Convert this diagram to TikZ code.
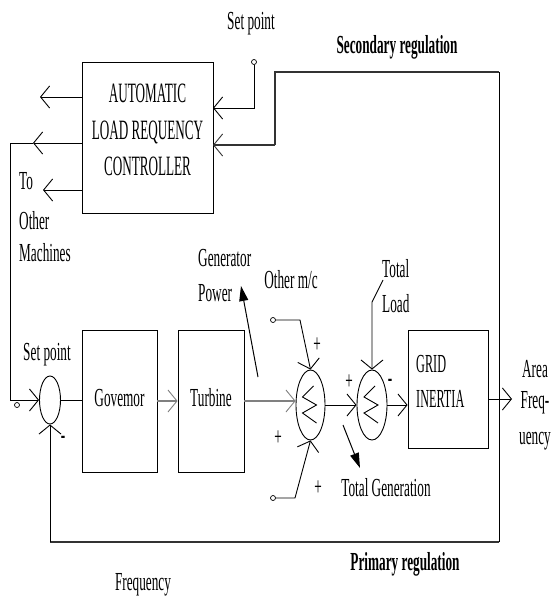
\documentclass[tikz,border=0pt]{standalone}
\usepackage{fontspec}
\setmainfont{Liberation Serif}[FakeStretch=0.51]
\newfontfamily\capsfont{Liberation Serif}[FakeStretch=0.47]

\usetikzlibrary{arrows.meta, shapes.geometric}

\begin{document}
\begin{tikzpicture}[
          x=1pt, y=-1pt,
          lbl/.style={font=\fontsize{26}{32}\selectfont, inner sep=0pt},
          hdr/.style={font=\fontsize{26}{32}\selectfont\bfseries, inner sep=0pt},
          blk/.style={draw, line width=0.9pt, inner sep=0pt, text depth=7pt, font=\fontsize{26}{32}\selectfont},
          sumnode/.style={ellipse, draw, line width=0.9pt, inner sep=0pt},
          term/.style={circle, draw, line width=0.7pt, inner sep=0pt, minimum size=5pt},
          arr/.style={-{Straight Barb[length=9pt, width=22pt, line width=0.9pt]}, line width=0.9pt},
          farr/.style={-{Triangle[length=15pt, width=9pt]}, line width=1pt},
          heavy/.style={line width=2.5pt, draw=gray},
          loopln/.style={line width=1.8pt, draw=black!80}
        ]
        \useasboundingbox (0,0) rectangle (554,596);
        % blocks
        \node[blk, minimum width=131, minimum height=151] (alfc) at (147.5,137.5) {};
        \node[align=center, inner sep=0pt, font=\capsfont\fontsize{28}{36.5}\selectfont]
              (alfctxt) at (147.5,130) {AUTOMATIC\\LOAD REQUENCY\\CONTROLLER};
        \node[blk, minimum width=75, minimum height=142] (gov) at (119.5,401) {Govemor};
        \node[blk, minimum width=66, minimum height=142] (turb) at (211,401) {Turbine};
        \node[blk, minimum width=80, minimum height=118] (grid) at (448,389) {};
        \node[anchor=west, align=left, inner sep=0pt, font=\capsfont\fontsize{26}{35}\selectfont]
              (gridtxt) at (416,381.5) {GRID\\INERTIA};
        % summing points
        \node[sumnode, minimum width=21, minimum height=48] (sum1) at (50,400) {};
        \node[sumnode, minimum width=29, minimum height=70] (sum2) at (310.5,405) {};
        \node[sumnode, minimum width=30, minimum height=70] (sum3) at (372,405) {};
        \foreach \s in {sum2,sum3}
          \draw[line width=0.9pt, shift={(\s.center)}] (3,-19) -- (-8,-8) -- (6,0) -- (-8,8) -- (6,18);
        % terminals
        \node[term] (sptop) at (254,62) {};
        \node[term] (spleft) at (17,405) {};
        \node[term] (omtop) at (273,320) {};
        \node[term] (ombot) at (273,498) {};
        % coordinates
        \coordinate (spin) at (213,108);
        \coordinate (rtop) at (499,72);
        \coordinate (sjog) at (275,72);
        \coordinate (secin) at (213,145);
        \coordinate (rbot) at (499,542);
        \coordinate (lbot) at (50,542);
        \coordinate (lcorner) at (10,143);
        \coordinate (kt) at (300,320);
        \coordinate (kb) at (295,498);
        \coordinate (tl1) at (383,280);
        \coordinate (tl2) at (372,302);
        \coordinate (areaout) at (512,399);
        \coordinate (gp0) at (258,377);
        \coordinate (gp1) at (241,286);
        \coordinate (tg0) at (343,425);
        \coordinate (tg1) at (360,468);
        % secondary loop
        \draw[arr] (sptop) -- (sptop |- spin) -- (spin);
        \draw[line width=0.9pt] (rbot) -- (rtop);
        \draw[loopln] (rtop) -- (sjog) -- (sjog |- secin);
        \draw[arr, loopln] (sjog |- secin) -- (secin);
        \foreach \y/\xe/\n in {97/40/out1, 143/33/out2, 190/43/out3} {
          \coordinate (\n) at (\xe,\y);
          \draw[arr] (alfc.west |- \n) -- (\n);
        }
        \draw[arr] (out2) -- (lcorner) -- (lcorner |- sum1.west) -- (sum1.west);
        % primary loop
        \draw[loopln] (rbot) -- (lbot);
        \draw[arr] (lbot) -- (sum1.south);
        % main path
        \draw[line width=0.9pt] (sum1.east) -- (gov.west |- sum1.east);
        \draw[arr, heavy] (gov.east) -- (turb.west);
        \draw[arr, heavy] (turb.east) -- (turb.east -| sum2.west);
        \draw[arr] (sum2.east) -- (sum3.west);
        \draw[arr] (sum3.east) -- (sum3.east -| grid.west);
        \draw[arr] (grid.east |- areaout) -- (areaout);
        % other inputs
        \draw[arr] (omtop) -- (kt) -- (sum2.north);
        \draw[arr] (ombot) -- (kb) -- (sum2.south);
        \draw[arr] (tl1) -- (tl2) -- (sum3.north);
        \draw[farr] (gp0) -- (gp1);
        \draw[farr] (tg0) -- (tg1);
        % labels
        \node[lbl] (lsptop) at (251,24) {Set point};
        \node[hdr] (lsec) at (397,47) {Secondary regulation};
        \node[lbl, anchor=west, align=left] (lmach) at (19,217) {To\\[8pt]Other\\Machines};
        \node[lbl, anchor=west, align=left] (lgen) at (198,276) {Generator\\[3pt]Power};
        \node[lbl] (lother) at (291,280) {Other m/c};
        \node[lbl, anchor=west, align=left] (lload) at (382,286) {Total\\[3pt]Load};
        \node[lbl] (lspleft) at (47,355) {Set point};
        \node[lbl, align=center] (larea) at (535,405) {Area\\[-1pt]Freq-\\[4pt]uency};
        \node[lbl] (ltotgen) at (386,488) {Total Generation};
        \node[hdr] (lprim) at (405,564) {Primary regulation};
        \node[lbl] (lfreq) at (143,585) {Frequency};
        \node[lbl] (p1) at (317,345) {+};
        \node[lbl] (p2) at (318,488) {+};
        \node[lbl] (p3) at (278,438) {+};
        \node[lbl] (p4) at (349,382) {+};
        \node[lbl] (m1) at (63,440) {\textbf{-}};
        \node[lbl] (m2) at (390,383) {\textbf{-}};
      \end{tikzpicture}
\end{document}
